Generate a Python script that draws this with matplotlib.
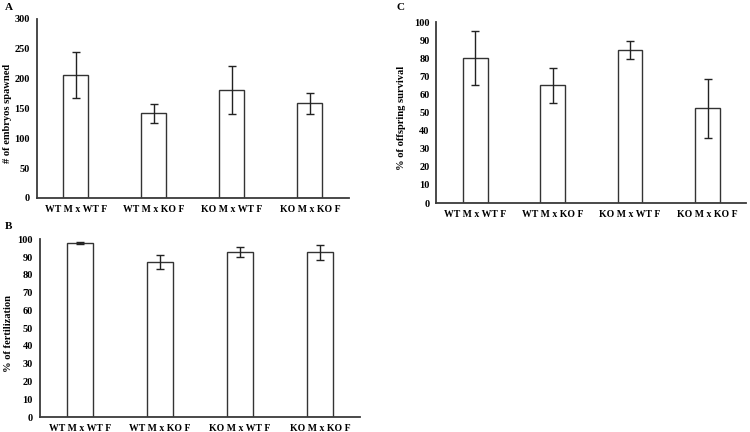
import matplotlib
matplotlib.use("Agg")
import matplotlib.pyplot as plt
import numpy as np

plt.rcParams['font.family'] = ['Liberation Serif', 'DejaVu Serif']
plt.rcParams['font.weight'] = 'bold'

categories = ["WT M x WT F", "WT M x KO F", "KO M x WT F", "KO M x KO F"]

embryos = [206, 142, 181, 158.6]
embryos_err = [38, 16, 41, 18]

fertilization = [98.1, 87.5, 93.0, 92.8]
fertilization_err = [0.5, 4.0, 3.0, 4.3]

survival = [80.3, 65.0, 84.6, 52.4]
survival_err = [15.0, 9.8, 4.9, 16.4]

fig = plt.figure(figsize=(7.5, 4.32), dpi=100)

spine_color = '#3a3a3a'

def panel(rect, vals, errs, ylim, yticks, ylabel, letter, letter_pos, label_x):
    ax = fig.add_axes(rect)
    x = np.arange(len(categories))
    ax.bar(x, vals, width=0.32, color='white', edgecolor='#333333', linewidth=1.0, zorder=2)
    ax.errorbar(x, vals, yerr=errs, fmt='none', ecolor='#222222', elinewidth=1.0,
                capsize=2.8, capthick=1.0, zorder=3)
    ax.set_xlim(-0.5, len(categories) - 0.5)
    ax.set_ylim(*ylim)
    ax.set_yticks(yticks)
    ax.set_xticks(x)
    ax.set_xticklabels(categories, fontsize=7, fontweight='bold')
    ax.tick_params(axis='x', length=0, labelsize=7, pad=5)
    ax.tick_params(axis='y', length=0, labelsize=7.5, pad=5)
    for lab in ax.get_yticklabels():
        lab.set_fontweight('bold')
    for s in ['top', 'right']:
        ax.spines[s].set_visible(False)
    for s in ['left', 'bottom']:
        ax.spines[s].set_color(spine_color)
        ax.spines[s].set_linewidth(1.3)
    ax.set_ylabel(ylabel, fontsize=7.6, fontweight='bold')
    ax.yaxis.set_label_coords(label_x, 0.47)
    fig.text(letter_pos[0], letter_pos[1], letter, fontsize=8, fontweight='bold',
             ha='left', va='center')
    return ax

panel([0.0493, 0.5417, 0.416, 0.4144], embryos, embryos_err, (0, 300),
      np.arange(0, 301, 50), "# of embryos spawned", "A", (0.006, 1 - 8 / 432), -0.08)
panel([0.0533, 0.0347, 0.4267, 0.411], fertilization, fertilization_err, (0, 100),
      np.arange(0, 101, 10), "% of fertilization", "B", (0.006, 1 - 227 / 432), -0.083)
panel([0.582, 0.530, 0.413, 0.419], survival, survival_err, (0, 100),
      np.arange(0, 101, 10), "% of offspring survival", "C", (0.529, 1 - 8 / 432), -0.098)

fig.savefig("out.png", dpi=100)
